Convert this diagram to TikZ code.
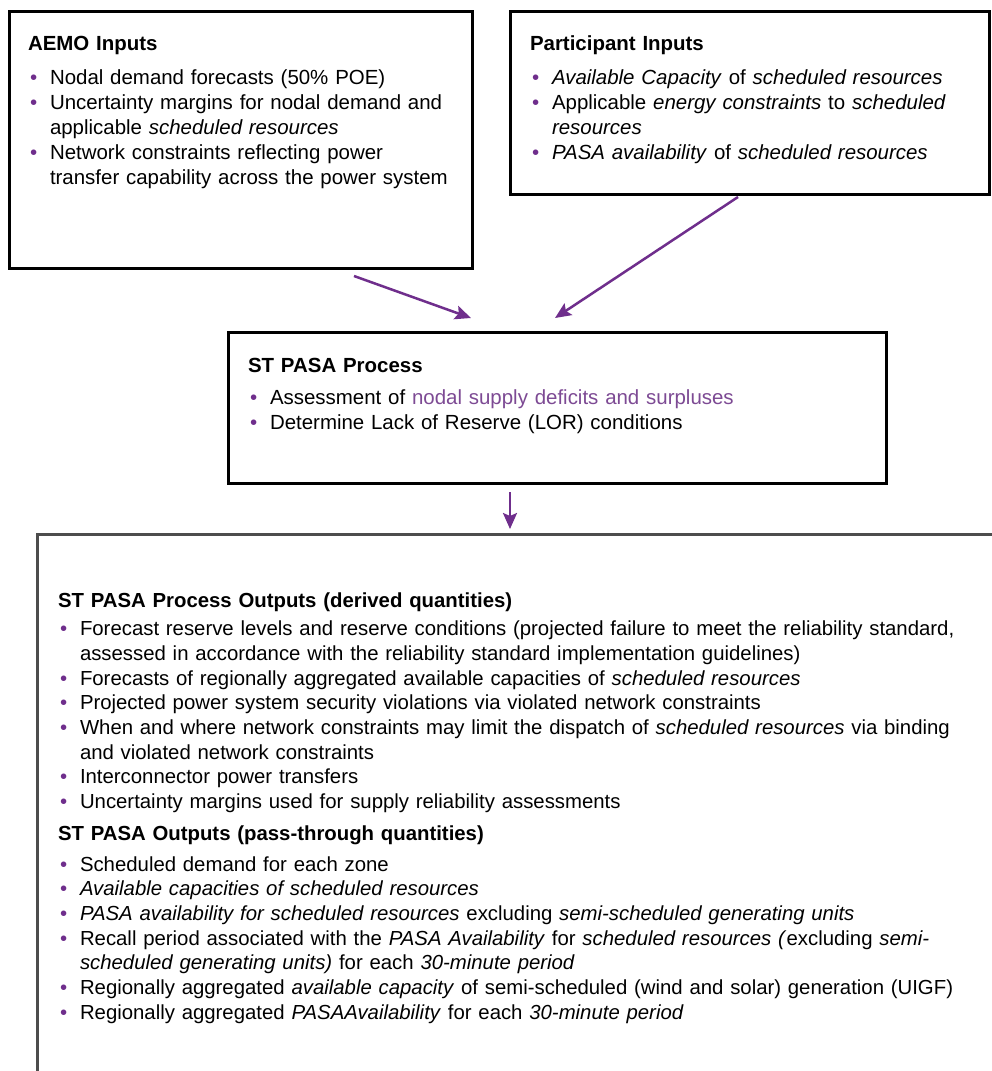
\documentclass[tikz,border=0pt]{standalone}
\usepackage{fontspec}
\setmainfont{Liberation Sans}
\usetikzlibrary{arrows.meta,calc}
\definecolor{pur}{HTML}{6F2E8C}
\definecolor{lpur}{HTML}{7D4A94}
\definecolor{obox}{HTML}{4D4D4D}
\newlength\hind
\setlength\hind{22pt}
\newcommand\bitem[1]{\par\hangindent=\hind\hangafter=1\noindent\makebox[\hind][l]{\hspace{2pt}\textcolor{pur}{\textbullet}}#1}
\newcommand\heading[1]{\noindent\rule{0pt}{20pt}\textbf{#1}\par}
\begin{document}
\begin{tikzpicture}[x=1pt,y=-1pt,
  boxst/.style={draw=black, line width=3pt, inner sep=0pt, outer sep=0pt, anchor=north west},
  txt/.style={anchor=north west, inner sep=0pt, outer sep=0pt, align=left, font=\fontsize{20.45}{25}\selectfont},
  txtb/.style={txt, font=\fontsize{20.35}{24.7}\selectfont},
  arr/.style={draw=pur, line width=2.5pt, -{Stealth[length=16pt,width=14pt,inset=3pt]}}]
\useasboundingbox (0,0) rectangle (992,1071);
\fill[white] (0,0) rectangle (992,1071);
% boxes
\node[boxst, minimum width=463pt, minimum height=257pt] (aemo) at (9,11) {};
\node[boxst, minimum width=479pt, minimum height=183pt] (part) at (510.5,11.5) {};
\node[boxst, minimum width=658pt, minimum height=151pt] (proc) at (228.5,332.5) {};
\node[boxst, draw=obox, minimum width=1000pt, minimum height=600pt] (outp) at (37,534) {};
% texts
\node[txt, text width=440pt] (aemotxt) at (28,30) {%
\heading{AEMO Inputs}\vspace{9pt}
\bitem{Nodal demand forecasts (50\% POE)}
\bitem{Uncertainty margins for nodal demand and\newline applicable \textit{scheduled resources}}
\bitem{Network constraints reflecting power\newline transfer capability across the power system}\par};
\node[txt, text width=455pt] (parttxt) at (530,30) {%
\heading{Participant Inputs}\vspace{9pt}
\bitem{\textit{Available Capacity} of \textit{scheduled resources}}
\bitem{Applicable \textit{energy constraints} to \textit{scheduled}\newline \textit{resources}}
\bitem{\textit{PASA availability} of \textit{scheduled resources}}\par};
\node[txt, text width=630pt] (proctxt) at (248,352) {%
\heading{ST PASA Process}\vspace{7pt}
\bitem{Assessment of \textcolor{lpur}{nodal supply deficits and surpluses}}
\bitem{Determine Lack of Reserve (LOR) conditions}\par};
\node[txtb, text width=932pt] (outtxt) at (58,587) {%
\heading{ST PASA Process Outputs (derived quantities)}\vspace{4pt}
\bitem{Forecast reserve levels and reserve conditions (projected failure to meet the reliability standard,\newline assessed in accordance with the reliability standard implementation guidelines)}
\bitem{Forecasts of regionally aggregated available capacities of \textit{scheduled resources}}
\bitem{Projected power system security violations via violated network constraints}
\bitem{When and where network constraints may limit the dispatch of \textit{scheduled resources} via binding\newline and violated network constraints}
\bitem{Interconnector power transfers}
\bitem{Uncertainty margins used for supply reliability assessments}\par\vspace{7pt}
\heading{ST PASA Outputs (pass-through quantities)}\vspace{6pt}
\bitem{Scheduled demand for each zone}
\bitem{\textit{Available capacities of scheduled resources}}
\bitem{\textit{PASA availability for scheduled resources} excluding \textit{semi-scheduled generating units}}
\bitem{Recall period associated with the \textit{PASA Availability} for \textit{scheduled resources (}excluding \textit{semi-}\newline \textit{scheduled generating units)} for each \textit{30-minute period}}
\bitem{Regionally aggregated \textit{available capacity} of semi-scheduled (wind and solar) generation (UIGF)}
\bitem{Regionally aggregated \textit{PASAAvailability} for each \textit{30-minute period}}\par};
% arrows
\coordinate (a1s) at (354,276);
\coordinate (a1e) at (471,318);
\coordinate (a2s) at (738,197);
\coordinate (a2e) at (555,318);
\coordinate (a3s) at (510,492);
\coordinate (a3e) at (510,529);
\draw[arr] (a1s) -- (a1e);
\draw[arr] (a2s) -- (a2e);
\draw[arr] (a3s) -- (a3e);
\end{tikzpicture}
\end{document}
